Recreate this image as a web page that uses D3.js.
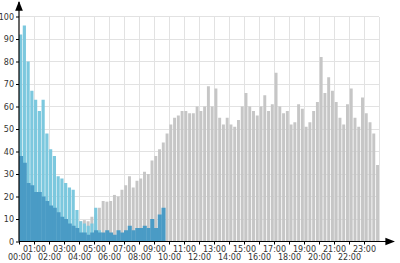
<!DOCTYPE html>
<html><head><meta charset="utf-8">
<script src="https://cdn.jsdelivr.net/npm/d3@7"></script>
<style>body{margin:0;background:#fff}svg{display:block}text{font-family:"DejaVu Sans",sans-serif}</style>
</head><body>
<svg id="c" width="400" height="263"></svg>
<script>
// 15-minute buckets, 96 per day
const hourLabels = ["00:00","01:00","02:00","03:00","04:00","05:00","06:00","07:00","08:00","09:00","10:00","11:00","12:00","13:00","14:00","15:00","16:00","17:00","18:00","19:00","20:00","21:00","22:00","23:00"];
const yTicks = [0,10,20,30,40,50,60,70,80,90,100];
const grayValues = [0,0,0,0,0,0,0,0,0,0,0,0,0,0,0,0,
  9,9.5,9,11,12,15,18,17.7,18,20.7,20,23,25,29,24,27,28,31,30,36,38,41,44,48,
  52,55,56,58,58,57,57,60,58,60,69,60,68,55,52,55,52,51,54,60,66,60,58,56,60,65,
  58,61,75,60,57,58,52,53,61,59,51,53,58,62,82,66,73,67,62,55,52,61,68,55,51,64,57,53,48,34];
const lightBlueValues = [92,96,80,67,63,58,63,48,41,38,29,28,26,24,23,14,9,8,7,8,15,5,
  0,0,0,0,0,0,0,0,0,0,0,0,0,0,0,0,0,0];
const darkBlueValues = [38,35,26,25,22,22,20,18,16,15,13,11,10,8,7,6,4,4,3,4,5,4,
  4,5,4,3,5,4,5,7,5,6,6,7,6,10,6,12,15,0];

const svg = d3.select("#c");
const L = 19, R = 379, T = 16.5, B = 241.5;
const x = d3.scaleLinear().domain([0,24]).range([L,R]);
const y = d3.scaleLinear().domain([0,100]).range([B,T]);

// grid
const g = svg.append("g");
g.selectAll("line.h").data(yTicks.slice(1)).join("line")
  .attr("x1",L).attr("x2",R).attr("y1",d=>y(d)).attr("y2",d=>y(d))
  .attr("stroke","#e2e2e2").attr("stroke-width",1).attr("shape-rendering","crispEdges");
g.selectAll("line.v").data(d3.range(1,25)).join("line")
  .attr("y1",T).attr("y2",B).attr("x1",d=>x(d)).attr("x2",d=>x(d))
  .attr("stroke","#e2e2e2").attr("stroke-width",1).attr("shape-rendering","crispEdges");

function bars(vals, color, pad){
  const band = d3.scaleBand().domain(d3.range(96)).range([L,R]).paddingInner(pad).paddingOuter(0);
  svg.append("g").selectAll("rect").data(vals).join("rect")
    .attr("x",(d,i)=>band(i)).attr("width",band.bandwidth()+(pad===0?0.3:0))
    .attr("y",d=>y(d)).attr("height",d=>B-y(d)).attr("fill",color);
}
bars(grayValues,"#c6c6c6",0.22);
bars(lightBlueValues,"#7cc8de",0.15);
bars(darkBlueValues,"#4a9bc5",0);

// y axis
const ya = svg.append("g").attr("transform",`translate(${L},0)`)
  .call(d3.axisLeft(y).tickValues(yTicks).tickSize(3).tickFormat(d3.format("d")));
ya.select(".domain").remove();
ya.selectAll("text").attr("font-size",8).attr("fill","#333").attr("x",-5);
ya.selectAll("line").attr("stroke","#000");

// x axis
const xa = svg.append("g").attr("transform",`translate(0,${B})`)
  .call(d3.axisBottom(x).tickValues(d3.range(0,24)).tickSize(3).tickFormat(d=>hourLabels[d]));
xa.select(".domain").remove();
xa.selectAll("line").attr("stroke","#000");
xa.selectAll("text").attr("font-size",8).attr("fill","#333")
  .attr("y",(d)=> d%2 ? 5 : 13);

// axis lines with arrows
svg.append("defs").append("marker").attr("id","arr").attr("viewBox","0 0 10 10")
  .attr("refX",9).attr("refY",5).attr("markerWidth",8).attr("markerHeight",8).attr("orient","auto")
  .append("path").attr("d","M0,1 L10,5 L0,9 Z").attr("fill","#000");
svg.append("line").attr("x1",L).attr("x2",L).attr("y1",B).attr("y2",2)
  .attr("stroke","#000").attr("stroke-width",1.2).attr("marker-end","url(#arr)");
svg.append("line").attr("x1",L).attr("x2",394).attr("y1",B).attr("y2",B)
  .attr("stroke","#000").attr("stroke-width",1.2).attr("marker-end","url(#arr)");
</script>
</body></html>
